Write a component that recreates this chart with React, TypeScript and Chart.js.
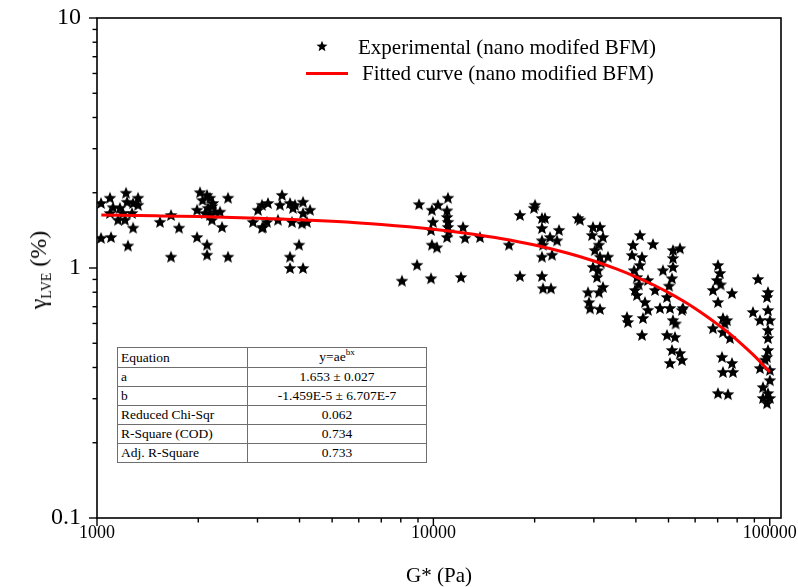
import React, { useEffect, useRef } from 'react';
import { Chart, registerables } from 'chart.js';

Chart.register(...registerables);

// ---------- data ----------
const xTitle = 'G* (Pa)';
const xTickLabels = ['1000', '10000', '100000'];
const yTickLabels = ['0.1', '1', '10'];
const expLabel = 'Experimental (nano modifed BFM)';
const fitLabel = 'Fitted curve (nano modified BFM)';

const X_MIN = 1000;
const X_MAX = 108000;
const Y_MIN = 0.1;
const Y_MAX = 10;

// experimental points [G* (Pa), gamma_LVE (%)]
const experimental: [number, number][] = [
  [1028, 1.82], [1093, 1.91], [1116, 1.75], [1093, 1.66], [1155, 1.56], [1211, 1.56], [1220, 2.0], [1228, 1.84],
  [1280, 1.82], [1324, 1.91], [1324, 1.79], [1271, 1.66], [1280, 1.45], [1028, 1.32], [1101, 1.33], [1236, 1.23],
  [1170, 1.74], [1195, 1.66],
  [1539, 1.53], [1660, 1.63], [1753, 1.45], [1660, 1.11], [2024, 2.01], [2124, 1.96], [2168, 1.91], [2212, 1.82],
  [2138, 1.74], [1983, 1.71], [2095, 1.66], [2243, 1.68], [2197, 1.56], [2321, 1.68], [2353, 1.46], [1983, 1.33],
  [2124, 1.24], [2124, 1.13], [2452, 1.91], [2452, 1.11], [2060, 1.87], [2197, 1.77], [2168, 1.63],
  [2909, 1.53], [3010, 1.71], [3094, 1.79], [3094, 1.45], [3223, 1.82], [3548, 1.96], [3499, 1.79], [3748, 1.82],
  [3825, 1.74], [3878, 1.79], [4097, 1.84], [4298, 1.71], [4097, 1.66], [3115, 1.46], [3201, 1.53], [3452, 1.56],
  [3799, 1.53], [4069, 1.51], [4210, 1.53], [3986, 1.24], [3748, 1.11], [3748, 1.0], [4097, 1.0],
  [8066, 0.89], [8941, 1.03], [9064, 1.8], [9900, 1.71], [10320, 1.79], [11050, 1.91], [9970, 1.53], [9840, 1.42],
  [10980, 1.6], [11050, 1.53], [11050, 1.46], [10980, 1.33], [12250, 1.46], [12420, 1.32], [13760, 1.33], [9900, 1.24],
  [10250, 1.21], [9840, 0.91], [12080, 0.92], [10980, 1.7], [11100, 1.4],
  [16780, 1.24], [18090, 1.63], [20050, 1.79], [19910, 1.74], [21030, 1.585], [21470, 1.585], [21030, 1.445], [23630, 1.42],
  [22220, 1.33], [23310, 1.29], [21030, 1.29], [21180, 1.24], [22530, 1.13], [21030, 1.11], [18090, 0.93], [21030, 0.93],
  [21180, 0.83], [22370, 0.83], [26910, 1.585],
  [27280, 1.56], [29820, 1.46], [31280, 1.46], [29620, 1.355], [31930, 1.33], [31070, 1.24], [31280, 1.11], [33040, 1.11],
  [29820, 1.01], [30860, 0.98], [30650, 0.92], [31930, 0.84], [31070, 0.8], [28820, 0.8], [29020, 0.73], [29220, 0.69],
  [31280, 0.686], [30200, 1.18], [31500, 1.05],
  [41130, 1.355], [39210, 1.236], [44960, 1.247], [38940, 1.127], [41700, 1.107], [41130, 1.028], [40300, 0.92], [43450, 0.895],
  [39750, 0.817], [40300, 0.78], [45590, 0.817], [42560, 0.731], [43450, 0.68], [41990, 0.631], [37630, 0.637], [37890, 0.608],
  [41700, 0.54], [40800, 0.86], [39500, 0.98],
  [51560, 1.18], [54090, 1.2], [51560, 1.096], [48150, 0.98], [51560, 1.01], [51210, 0.91], [49480, 0.766], [47170, 0.692],
  [50510, 0.692], [55210, 0.692], [51560, 0.619], [49480, 0.54], [52270, 0.53], [51210, 0.47], [54830, 0.429], [50510, 0.417],
  [54090, 0.457], [54830, 0.68], [50200, 0.85], [52500, 0.6],
  [70150, 1.028], [71120, 0.955], [69670, 0.895], [67800, 0.817], [77210, 0.794], [70150, 0.731], [72590, 0.631], [74610, 0.619],
  [67800, 0.575], [72590, 0.555], [76160, 0.525], [72100, 0.441], [77210, 0.417], [72590, 0.384], [77740, 0.384], [70150, 0.316],
  [75120, 0.313], [71500, 0.86], [73500, 0.6],
  [92250, 0.904], [98770, 0.802], [98100, 0.766], [89160, 0.667], [93520, 0.619], [100100, 0.619], [98770, 0.565], [98770, 0.525],
  [98100, 0.441], [93520, 0.398], [100100, 0.391], [100100, 0.356], [95460, 0.334], [98770, 0.316], [95460, 0.302], [100100, 0.302],
  [98100, 0.288], [98770, 0.679], [98770, 0.47], [96760, 0.43],
];

// fitted curve y = a*exp(b*x), sampled values
const fitG = [1030, 1500, 2000, 3000, 4000, 5000, 7000, 10000, 13000, 16000, 20000, 25000, 30000, 35000, 40000,
  45000, 50000, 55000, 60000, 65000, 70000, 75000, 80000, 85000, 90000, 95000, 100000];
const fitGamma = [1.628, 1.617, 1.606, 1.582, 1.559, 1.537, 1.493, 1.429, 1.367, 1.309, 1.235, 1.148, 1.067, 0.992, 0.922,
  0.857, 0.797, 0.741, 0.689, 0.64, 0.595, 0.554, 0.515, 0.478, 0.445, 0.413, 0.384];

const tableKeys = ['Equation', 'a', 'b', 'Reduced Chi-Sqr', 'R-Square (COD)', 'Adj. R-Square'];
const tableValues = ['y=ae^bx', '1.653 ± 0.027', '-1.459E-5 ± 6.707E-7', '0.062', '0.734', '0.733'];

// ---------- helpers ----------
const SERIF = "'Liberation Serif', 'Times New Roman', Times, serif";

const isPow10 = (v: number) => Math.abs(Math.log10(v) - Math.round(Math.log10(v))) < 1e-6;

function decadeTicks(minExp: number, maxExp: number, max: number) {
  const out: number[] = [];
  for (let e = minExp; e <= maxExp; e++) {
    for (let d = 1; d <= 9; d++) {
      const v = d * Math.pow(10, e);
      if (v <= max * 1.000001) out.push(v);
    }
  }
  return out;
}

function starPoints(cx: number, cy: number, R: number, ratio: number) {
  const pts: [number, number][] = [];
  for (let i = 0; i < 10; i++) {
    const ang = -Math.PI / 2 + (i * Math.PI) / 5;
    const rad = i % 2 === 0 ? R : R * ratio;
    pts.push([cx + rad * Math.cos(ang), cy + rad * Math.sin(ang)]);
  }
  return pts;
}

function makeStar(size: number) {
  const c = document.createElement('canvas');
  c.width = size;
  c.height = size;
  const ctx = c.getContext('2d')!;
  const pts = starPoints(size / 2, size / 2 + 0.6, size / 2 - 0.3, 0.44);
  ctx.beginPath();
  pts.forEach(([x, y], i) => (i === 0 ? ctx.moveTo(x, y) : ctx.lineTo(x, y)));
  ctx.closePath();
  ctx.fillStyle = '#000';
  ctx.fill();
  return c;
}

const axisDecor = {
  id: 'axisDecor',
  beforeDatasetsDraw(chart: any) {
    const { ctx, chartArea: a } = chart;
    ctx.save();
    ctx.strokeStyle = '#000';
    ctx.lineWidth = 1.6;
    ctx.strokeRect(a.left, a.top, a.right - a.left, a.bottom - a.top);
    ctx.restore();
  },
  afterDraw(chart: any) {
    const { ctx, chartArea: a, scales } = chart;
    ctx.save();
    ctx.strokeStyle = '#000';
    ctx.lineWidth = 1.4;
    for (const v of decadeTicks(3, 5, X_MAX)) {
      const px = scales.x.getPixelForValue(v);
      const len = isPow10(v) ? 8 : 4.5;
      ctx.beginPath();
      ctx.moveTo(px, a.bottom);
      ctx.lineTo(px, a.bottom + len);
      ctx.stroke();
    }
    for (const v of decadeTicks(-1, 1, Y_MAX)) {
      const py = scales.y.getPixelForValue(v);
      const len = isPow10(v) ? 8 : 4.5;
      ctx.beginPath();
      ctx.moveTo(a.left, py);
      ctx.lineTo(a.left - len, py);
      ctx.stroke();
    }
    ctx.restore();
  },
};

export default function App() {
  const ref = useRef<HTMLCanvasElement>(null);

  useEffect(() => {
    if (!ref.current) return;
    const star = makeStar(14);
    const chart = new Chart(ref.current, {
      type: 'scatter',
      data: {
        datasets: [
          {
            label: fitLabel,
            data: fitG.map((x, i) => ({ x, y: fitGamma[i] })),
            showLine: true,
            borderColor: '#ff0000',
            backgroundColor: '#ff0000',
            borderWidth: 3,
            pointRadius: 0,
            cubicInterpolationMode: 'monotone',
            order: 0,
          } as any,
          {
            label: expLabel,
            data: experimental.map(([x, y]) => ({ x, y })),
            pointStyle: star as any,
            pointRadius: 7,
            backgroundColor: '#000',
            borderColor: '#000',
            order: 1,
          } as any,
        ],
      },
      options: {
        animation: false,
        responsive: false,
        events: [],
        layout: { padding: { left: 0, top: 18, right: 17, bottom: 0 } },
        plugins: {
          legend: { display: false },
          tooltip: { enabled: false },
        },
        scales: {
          x: {
            type: 'logarithmic',
            min: X_MIN,
            max: X_MAX,
            grid: { display: false, drawTicks: false },
            border: { display: false },
            ticks: {
              autoSkip: false,
              maxRotation: 0,
              minRotation: 0,
              padding: 4,
              color: '#000',
              font: { family: SERIF, size: 18 },
              callback: (v: any) => (isPow10(Number(v)) ? xTickLabels[Math.round(Math.log10(Number(v))) - 3] ?? '' : ''),
            },
            title: {
              display: true,
              text: xTitle,
              color: '#000',
              font: { family: SERIF, size: 21, lineHeight: 1 },
              padding: { top: 0, bottom: 0 },
            },
            afterFit: (s: any) => {
              s.height = 69;
              s.paddingLeft = 0;
              s.paddingRight = 0;
            },
          } as any,
          y: {
            type: 'logarithmic',
            min: Y_MIN,
            max: Y_MAX,
            grid: { display: false, drawTicks: false },
            border: { display: false },
            ticks: {
              autoSkip: false,
              padding: 16,
              color: '#000',
              font: { family: SERIF, size: 24 },
              callback: (v: any) => (isPow10(Number(v)) ? yTickLabels[Math.round(Math.log10(Number(v))) + 1] ?? '' : ''),
            },
            afterFit: (s: any) => {
              s.width = 97;
              s.paddingTop = 0;
              s.paddingBottom = 0;
            },
          } as any,
        },
      },
      plugins: [axisDecor],
    });
    return () => chart.destroy();
  }, []);

  const legendStar = starPoints(6, 6.5, 5.8, 0.44).map((p) => p.join(',')).join(' ');
  const cell: React.CSSProperties = {
    border: '1px solid #6e6e6e',
    padding: '0 3px',
    height: 18,
    lineHeight: '18px',
    whiteSpace: 'nowrap',
  };

  return (
    <div
      style={{
        position: 'absolute',
        left: 0,
        top: 0,
        width: 798,
        height: 587,
        background: '#fff',
        fontFamily: SERIF,
        color: '#000',
        overflow: 'hidden',
      }}
    >
      <canvas ref={ref} width={798} height={587} style={{ position: 'absolute', left: 0, top: 0, width: 798, height: 587 }} />

      {/* y axis title */}
      <div
        style={{
          position: 'absolute',
          left: 40,
          top: 270,
          transform: 'translate(-50%, -50%) rotate(-90deg)',
          whiteSpace: 'nowrap',
          fontSize: 24,
          lineHeight: '28px',
        }}
      >
        γ<span style={{ fontSize: 14, position: 'relative', top: 5 }}>LVE</span> (%)
      </div>

      {/* legend */}
      <svg width={12} height={13} style={{ position: 'absolute', left: 316, top: 40 }}>
        <polygon points={legendStar} fill="#000" />
      </svg>
      <div style={{ position: 'absolute', left: 358, top: 34, fontSize: 21, lineHeight: '26px', whiteSpace: 'nowrap' }}>
        {expLabel}
      </div>
      <div style={{ position: 'absolute', left: 306, top: 71.5, width: 42, height: 3, background: '#ff0000' }} />
      <div style={{ position: 'absolute', left: 362, top: 60, fontSize: 21, lineHeight: '26px', whiteSpace: 'nowrap' }}>
        {fitLabel}
      </div>

      {/* fit statistics table */}
      <table
        style={{
          position: 'absolute',
          left: 117,
          top: 347,
          width: 309,
          borderCollapse: 'collapse',
          tableLayout: 'fixed',
          background: '#fff',
          fontSize: 13.5,
          fontFamily: SERIF,
          border: '1px solid #555',
        }}
      >
        <colgroup>
          <col style={{ width: 130 }} />
          <col style={{ width: 179 }} />
        </colgroup>
        <tbody>
          {tableKeys.map((k, i) => (
            <tr key={k}>
              <td style={cell}>{k}</td>
              <td style={{ ...cell, textAlign: 'center' }}>
                {i === 0 ? (
                  <>
                    {tableValues[0].split('^')[0]}
                    <span style={{ fontSize: 9, position: 'relative', top: -6 }}>{tableValues[0].split('^')[1]}</span>
                  </>
                ) : (
                  tableValues[i]
                )}
              </td>
            </tr>
          ))}
        </tbody>
      </table>
    </div>
  );
}
